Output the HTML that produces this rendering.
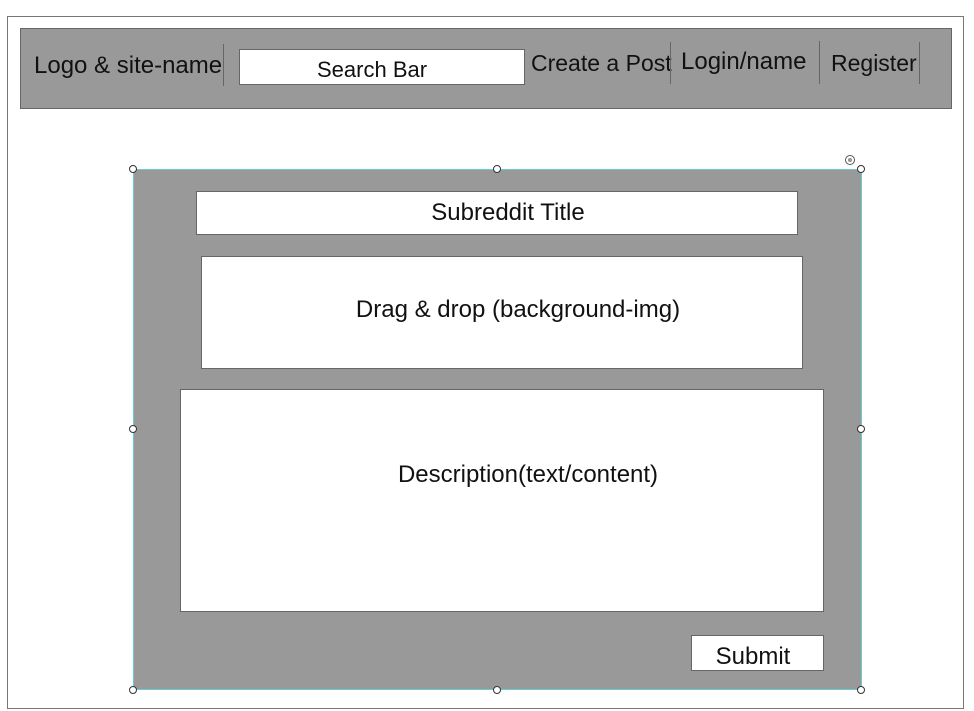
<!DOCTYPE html>
<html><head><style>
body{margin:0;width:974px;height:711px;background:#fff;position:relative;overflow:hidden;font-family:"Liberation Sans",sans-serif;color:#111}
div{position:absolute;box-sizing:border-box}
.t{white-space:nowrap;font-size:24px;line-height:1}
.box{background:#fff;border:1px solid #666}
.h{width:8px;height:8px;border:1px solid #333;border-radius:50%;background:#fff}
.v{width:1px;background:#666}
</style></head><body>
<div style="left:7px;top:16px;width:957px;height:693px;border:1px solid #777"></div>
<div style="left:20px;top:28px;width:932px;height:81px;background:#999;border:1px solid #666"></div>
<div class="t" style="left:34px;top:54px;font-size:24px">Logo &amp; site-name</div>
<div class="v" style="left:223px;top:44px;height:42px"></div>
<div class="box" style="left:239px;top:49px;width:286px;height:36px"></div>
<div class="t" style="left:317px;top:59px;font-size:22px">Search Bar</div>
<div class="t" style="left:531px;top:52px;font-size:23px">Create a Post</div>
<div class="v" style="left:670px;top:42px;height:42px"></div>
<div class="t" style="left:681px;top:50px;font-size:24px">Login/name</div>
<div class="v" style="left:819px;top:41px;height:43px"></div>
<div class="t" style="left:831px;top:52px;font-size:23px">Register</div>
<div class="v" style="left:919px;top:42px;height:42px"></div>

<div style="left:133px;top:169px;width:729px;height:521px;background:#999;border:1px solid #6cc"></div>
<div class="box" style="left:196px;top:191px;width:602px;height:44px"></div>
<div class="t" style="left:0;width:1016px;text-align:center;top:201px">Subreddit Title</div>
<div class="box" style="left:201px;top:256px;width:602px;height:113px"></div>
<div class="t" style="left:201px;width:634px;text-align:center;top:298px">Drag &amp; drop (background-img)</div>
<div class="box" style="left:180px;top:389px;width:644px;height:223px"></div>
<div class="t" style="left:180px;width:696px;text-align:center;top:463px">Description(text/content)</div>
<div class="box" style="left:691px;top:635px;width:133px;height:36px"></div>
<div class="t" style="left:691px;width:124px;text-align:center;top:645px">Submit</div>

<div class="h" style="left:129px;top:165px"></div>
<div class="h" style="left:493px;top:165px"></div>
<div class="h" style="left:857px;top:165px"></div>
<div class="h" style="left:129px;top:425px"></div>
<div class="h" style="left:857px;top:425px"></div>
<div class="h" style="left:129px;top:686px"></div>
<div class="h" style="left:493px;top:686px"></div>
<div class="h" style="left:857px;top:686px"></div>
<div style="left:845px;top:155px;width:10px;height:10px;border:1px solid #555;border-radius:50%;background:radial-gradient(#999 35%,#fff 40%)"></div>
</body></html>
